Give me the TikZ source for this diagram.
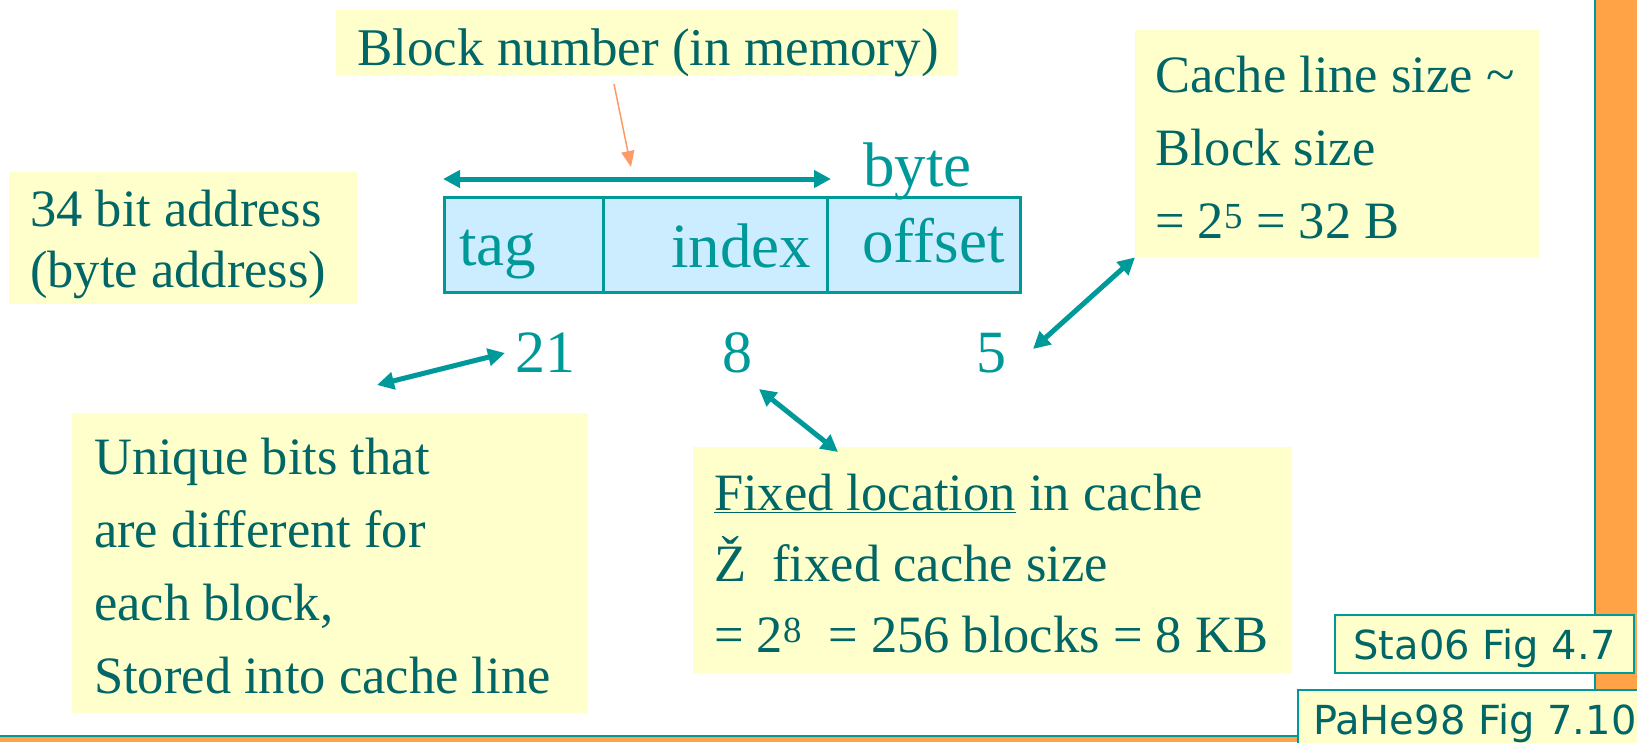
\documentclass[tikz,border=0pt]{standalone}
\usepackage{fontspec}
\setmainfont{Liberation Serif}
\newfontfamily\figfont{DejaVu Sans}
\usetikzlibrary{arrows.meta}

\definecolor{noteyellow}{HTML}{FFFFCC}
\definecolor{cellblue}{HTML}{CCECFF}
\definecolor{textteal}{HTML}{006666}
\definecolor{lineteal}{HTML}{009999}
\definecolor{frameorange}{HTML}{FFA346}
\definecolor{ptrorange}{HTML}{FF9966}

% stacked lines with a fixed baseline distance; the baseline is the first line's
\newcommand\noteLines[2]{\vtop{\baselineskip=#1\lineskiplimit=-500pt\lineskip=0pt\relax #2}}

\begin{document}
\begin{tikzpicture}[x=1pt,y=-1pt,
  notebox/.style={fill=noteyellow, draw=none, inner sep=0pt, anchor=north west},
  cell/.style={fill=cellblue, draw=lineteal, line width=3pt, inner sep=0pt, anchor=north west},
  note/.style={text=textteal, inner sep=0pt, anchor=base west, font=\fontsize{52.5}{73}\selectfont},
  field/.style={text=lineteal, inner sep=0pt, anchor=base west, font=\fontsize{63}{70}\selectfont},
  bits/.style={text=lineteal, inner sep=0pt, anchor=base west, font=\fontsize{60}{70}\selectfont},
  refbox/.style={fill=noteyellow, draw=lineteal, line width=2pt, text=textteal,
    font=\figfont\fontsize{40}{48}\selectfont, anchor=north west,
    text height=30pt, text depth=0pt},
  tealarrow/.style={draw=lineteal, line width=5pt,
    {Triangle[length=17pt,width=17pt]}-{Triangle[length=17pt,width=17pt]}},
  orangeptr/.style={draw=ptrorange, line width=1.5pt,
    -{Triangle[length=16pt,width=13pt]}}]

\clip (0,0) rectangle (1637,742);
\fill[white] (0,0) rectangle (1637,742);

% slide frame: orange strip on the right and along the bottom
\fill[frameorange] (1596,0) rectangle (1637,742);
\fill[frameorange] (0,737) rectangle (1637,742);
\draw[lineteal, line width=2pt] (1595,0) -- (1595,736) -- (0,736);

% block number label
\node[notebox, minimum width=622, minimum height=66] (blk) at (336,10) {};
\node[note, font=\fontsize{53}{60}\selectfont] (blkT) at (357,65) {Block number (in memory)};

% address fields
\node[cell, minimum width=159, minimum height=95] (tagf) at (443,196) {};
\node[cell, minimum width=224, minimum height=95] (idxf) at (602,196) {};
\node[cell, minimum width=193, minimum height=95] (offf) at (826,196) {};
\node[field] (tagT) at (459,265) {tag};
\node[field] (idxT) at (671,267) {index};
\node[field] (offT) at (862,262) {offset};
\node[field] (byteT) at (863,186) {byte};

% field widths
\node[bits] (n21) at (515,372) {21};
\node[bits] (n8) at (722,372) {8};
\node[bits] (n5) at (976,372) {5};

% address size note
\node[notebox, minimum width=348, minimum height=132] (addr) at (9,172) {};
\node[note] (addrT) at (30,226) {\noteLines{61pt}{\hbox{34 bit address}\hbox{(byte address)}}};

% cache line size note
\node[notebox, minimum width=404, minimum height=227] (cline) at (1135,30) {};
\node[note] (clineT) at (1155,92) {\noteLines{73pt}{\hbox{Cache line size \textasciitilde}\hbox{Block size}\hbox{= 2\textsuperscript{5} = 32 B}}};

% tag note
\node[notebox, minimum width=516, minimum height=300] (uniq) at (72,413) {};
\node[note] (uniqT) at (94,474) {\noteLines{73pt}{\hbox{Unique bits that}\hbox{are different for}\hbox{each block,}\hbox{Stored into cache line}}};

% index note
\node[notebox, minimum width=599, minimum height=226] (fixd) at (693,447) {};
\node[note] (fixdT) at (714,510) {\noteLines{71pt}{\hbox{\underline{Fixed location} in cache}\hbox{Ž~ fixed cache size}\hbox{= 2\textsuperscript{8}~ = 256 blocks = 8 KB}}};

% references
\node[refbox, minimum width=299, minimum height=58, inner sep=0pt] (sta) at (1334,614) {Sta06 Fig 4.7};
\node[refbox, inner xsep=15pt, inner ysep=14pt] (pahe) at (1297,689) {PaHe98 Fig 7.10};

% connectors
\coordinate (spanL) at ([yshift=17pt]tagf.north west);
\coordinate (spanR) at ([xshift=2pt,yshift=17pt]idxf.north east);
\draw[tealarrow] (spanL) -- (spanR);

\coordinate (blkTail) at (614,84);
\coordinate (blkHead) at (631,167);
\draw[orangeptr] (blkTail) -- (blkHead);

\coordinate (tagEnd) at (377,385);
\coordinate (n21End) at (505,353);
\draw[tealarrow] (tagEnd) -- (n21End);

\coordinate (n8End) at (759,389);
\coordinate (fixdEnd) at (838,452);
\draw[tealarrow] (n8End) -- (fixdEnd);

\coordinate (n5End) at (1033,349);
\draw[tealarrow] (n5End) -- (cline.south west);

\end{tikzpicture}
\end{document}
